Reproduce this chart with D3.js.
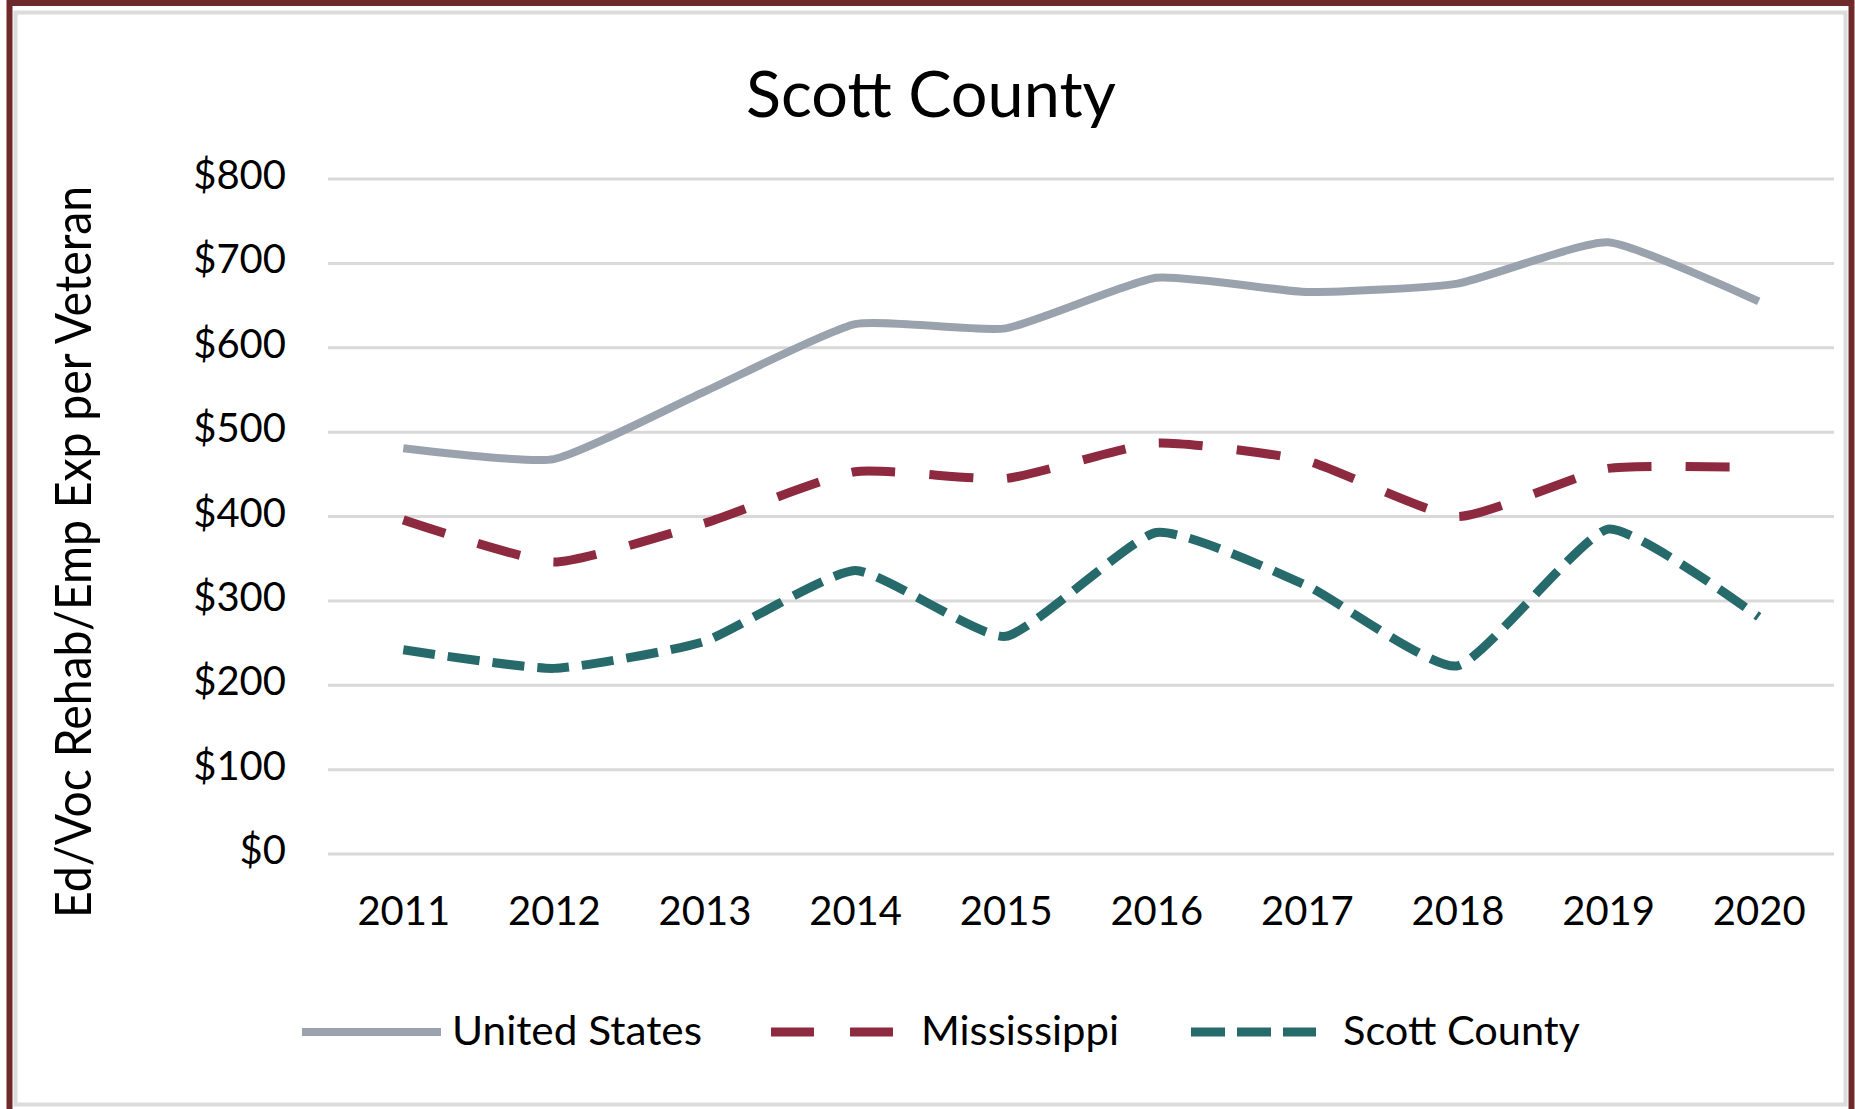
<!DOCTYPE html>
<html>
<head>
<meta charset="utf-8">
<script src="https://cdn.jsdelivr.net/npm/d3@7"></script>
<style>
  html, body { margin: 0; padding: 0; background: #ffffff; }
  svg { display: block; }
  text { font-family: Lato, "Open Sans", sans-serif; fill: #000; }
</style>
</head>
<body>
<svg id="chart" width="1855" height="1109"></svg>
<script>
// ---- data ----
const chartTitle = "Scott County";
const yAxisTitle = "Ed/Voc Rehab/Emp Exp per Veteran";
const years = ["2011","2012","2013","2014","2015","2016","2017","2018","2019","2020"];
const seriesNames = ["United States", "Mississippi", "Scott County"];
const usValues    = [481, 468, 548, 628, 623, 683, 666, 676, 725, 655];
const msValues    = [396, 346, 392, 453, 445, 487, 466, 400, 457, 458];
const scottValues = [242, 220, 252, 336, 258, 381, 318, 223, 385, 281];
const yTicks = [0, 100, 200, 300, 400, 500, 600, 700, 800];

// ---- styles ----
const seriesStyles = [
  { color: "#9aa3ad", width: 8, dash: null,    legendDash: null },
  { color: "#8e2a3f", width: 9, dash: "44,34", legendDash: "43,36" },
  { color: "#276a6c", width: 9, dash: "32,13", legendDash: "34,12" }
];
const seriesValues = [usValues, msValues, scottValues];

const svg = d3.select("#chart");

// outer maroon frame and inner grey chart-area frame
svg.append("rect").attr("x", 9.5).attr("y", 3).attr("width", 1842).attr("height", 1120)
  .attr("fill", "#ffffff").attr("stroke", "#6e2a2a").attr("stroke-width", 6);
svg.append("rect").attr("x", 15.5).attr("y", 12.5).attr("width", 1830).attr("height", 1092)
  .attr("fill", "#ffffff").attr("stroke", "#dcdcdc").attr("stroke-width", 4);

// scales
const x = d3.scalePoint().domain(years).range([328, 1834]).padding(0.5);
const y = d3.scaleLinear().domain([0, 800]).range([854, 179]);

// gridlines
svg.append("g").attr("class", "grid")
  .selectAll("line").data(yTicks).join("line")
  .attr("x1", 328).attr("x2", 1834)
  .attr("y1", d => y(d)).attr("y2", d => y(d))
  .attr("stroke", "#d9d9d9").attr("stroke-width", 3);

// y axis
const yAxis = svg.append("g").attr("transform", "translate(328,0)")
  .call(d3.axisLeft(y).tickValues(yTicks).tickSize(0).tickPadding(42).tickFormat(d => "$" + d));
yAxis.select(".domain").remove();
yAxis.selectAll("text").attr("font-family", "Lato, sans-serif").attr("font-size", 40)
  .attr("fill", "#000").attr("dy", "0.24em");

// x axis
const xAxis = svg.append("g").attr("transform", "translate(0,854)")
  .call(d3.axisBottom(x).tickSize(0).tickPadding(43));
xAxis.select(".domain").remove();
xAxis.selectAll("text").attr("font-family", "Lato, sans-serif").attr("font-size", 40).attr("fill", "#000");

// lines
const line = d3.line()
  .x((d, i) => x(years[i]))
  .y(d => y(d))
  .curve(d3.curveCardinal.tension(0.5));

seriesValues.forEach((vals, k) => {
  const st = seriesStyles[k];
  const p = svg.append("path").datum(vals)
    .attr("d", line)
    .attr("fill", "none")
    .attr("stroke", st.color)
    .attr("stroke-width", st.width)
    .attr("stroke-linejoin", "round");
  if (st.dash) p.attr("stroke-dasharray", st.dash);
});

// title
svg.append("text").attr("x", 931).attr("y", 117).attr("text-anchor", "middle")
  .attr("font-size", 64).attr("textLength", 370).attr("lengthAdjust", "spacingAndGlyphs")
  .text(chartTitle);

// y axis title
svg.append("text").attr("transform", "translate(91,552) rotate(-90)")
  .attr("text-anchor", "middle").attr("font-size", 50)
  .attr("textLength", 732).attr("lengthAdjust", "spacingAndGlyphs")
  .text(yAxisTitle);

// legend
const legendX = [302, 771, 1191];
const legendLineLen = [139, 125, 125];
const legendTextX = [452, 921, 1343];
const legendTextLen = [250, 198, 237];
const legendY = 1032;
seriesNames.forEach((name, k) => {
  const st = seriesStyles[k];
  const l = svg.append("line")
    .attr("x1", legendX[k]).attr("x2", legendX[k] + legendLineLen[k])
    .attr("y1", legendY).attr("y2", legendY)
    .attr("stroke", st.color).attr("stroke-width", st.width);
  if (st.legendDash) l.attr("stroke-dasharray", st.legendDash);
  svg.append("text").attr("x", legendTextX[k]).attr("y", 1045)
    .attr("font-size", 40).attr("textLength", legendTextLen[k])
    .attr("lengthAdjust", "spacingAndGlyphs").text(name);
});
</script>
</body>
</html>
